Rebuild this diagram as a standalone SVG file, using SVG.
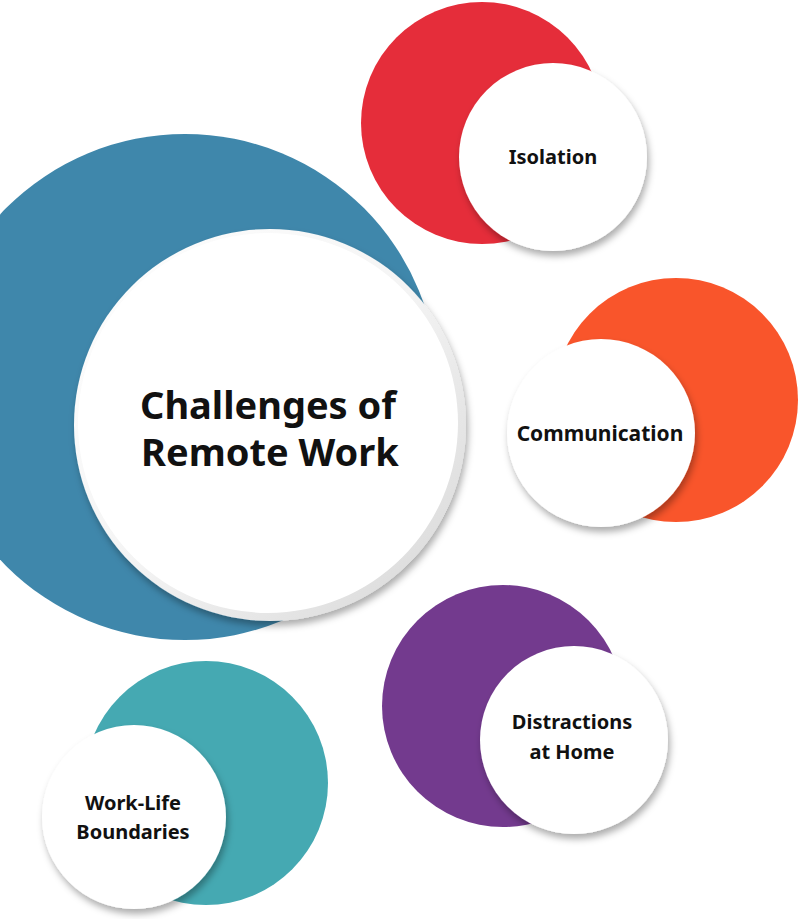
<svg xmlns="http://www.w3.org/2000/svg" width="800" height="919" viewBox="0 0 800 919">
<defs>
<filter id="sh" x="-20%" y="-20%" width="150%" height="150%">
<feDropShadow dx="2" dy="5" stdDeviation="3.5" flood-color="#000" flood-opacity="0.32"/>
</filter>
<linearGradient id="rim" x1="0" y1="0" x2="1" y2="1">
<stop offset="0" stop-color="#ffffff"/>
<stop offset="0.5" stop-color="#f4f4f4"/>
<stop offset="1" stop-color="#d6d6d6"/>
</linearGradient>
<style>
.w{fill:#fff;filter:url(#sh)}
.t{font-family:"Noto Sans","Open Sans",sans-serif;font-weight:bold;fill:#111;text-anchor:middle}
.s{font-size:20px}
.b{font-size:38px}
</style>
</defs>
<rect width="800" height="919" fill="#fff"/>
<g id="center">
<circle cx="185" cy="387" r="253" fill="#3f87ab"/>
<circle cx="270" cy="425" r="196" fill="url(#rim)" filter="url(#sh)"/>
<circle cx="268" cy="423" r="190" fill="#fff"/>
<text class="t b" x="268" y="419">Challenges of</text>
<text class="t b" x="270" y="466">Remote Work</text>
</g>
<g id="isolation">
<circle cx="482" cy="123" r="121" fill="#e52d3a"/>
<circle class="w" cx="553" cy="157" r="94"/>
<text class="t s" x="553" y="164">Isolation</text>
</g>
<g id="communication">
<circle cx="676" cy="400" r="122" fill="#f9552b"/>
<circle class="w" cx="601" cy="433" r="94"/>
<text class="t" style="font-size:21px" x="600" y="441">Communication</text>
</g>
<g id="distractions">
<circle cx="503" cy="706" r="121" fill="#733a8e"/>
<circle class="w" cx="574" cy="740" r="94"/>
<text class="t s" x="572" y="729">Distractions</text>
<text class="t s" x="572" y="759">at Home</text>
</g>
<g id="worklife">
<circle cx="206" cy="783" r="122" fill="#45a9b2"/>
<circle class="w" cx="134" cy="817" r="92"/>
<text class="t s" x="133" y="810">Work-Life</text>
<text class="t s" x="133" y="839">Boundaries</text>
</g>
<g id="connectors"/>
</svg>
